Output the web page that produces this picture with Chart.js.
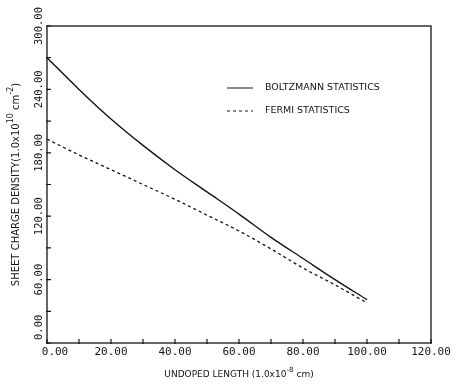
<!DOCTYPE html>
<html>
<head>
<meta charset="utf-8">
<script src="https://cdn.jsdelivr.net/npm/chart.js@4/dist/chart.umd.min.js"></script>
<style>
  body { margin: 0; background: #fff; }
  #chart { display: block; }
</style>
</head>
<body>
<canvas id="chart" width="456" height="384"></canvas>
<script>
// Undoped length (1.0x10^-8 cm)
const lengths = [0, 10, 20, 30, 40, 50, 60, 70, 80, 90, 100];
// Sheet charge density (1.0x10^10 cm^-2)
const boltzmann = [270, 240, 212, 187, 164, 143, 122, 100, 80, 60, 41];
const fermi = [193, 178, 164, 150, 136, 121, 106, 89, 71, 55, 38];

const xLabelValues = [0, 20, 40, 60, 80, 100, 120];
const yLabelValues = [0, 60, 120, 180, 240, 300];
const xMinorStep = 10;
const yMinorStep = 30;

const INK = '#141414';
const monoFont = '"DejaVu Sans Mono", monospace';
const textFont = '"DejaVu Sans", sans-serif';

function toPoints(xs, ys) {
    return xs.map((x, i) => ({ x: x, y: ys[i] }));
}

// draws text pieces in a row, some of them raised as superscripts
function drawPieces(ctx, pieces, x, y, size) {
    let total = 0;
    pieces.forEach(p => {
        ctx.font = (p.sup ? size * 0.8 : size) + 'px ' + textFont;
        p.w = ctx.measureText(p.text).width;
        total += p.w;
    });
    let cx = x - total / 2;
    pieces.forEach(p => {
        ctx.font = (p.sup ? size * 0.8 : size) + 'px ' + textFont;
        ctx.fillText(p.text, cx, p.sup ? y - size * 0.55 : y);
        cx += p.w;
    });
}

// frame, inward ticks, tick labels, axis titles and legend
const framePlugin = {
    id: 'frame',
    afterDraw(chart) {
        const ctx = chart.ctx;
        const area = chart.chartArea;
        const xs = chart.scales.x;
        const ys = chart.scales.y;
        ctx.save();
        ctx.strokeStyle = INK;
        ctx.fillStyle = INK;
        ctx.lineWidth = 1.3;
        ctx.strokeRect(area.left, area.top, area.right - area.left, area.bottom - area.top);

        ctx.lineWidth = 1.2;
        ctx.beginPath();
        for (let v = xs.min; v <= xs.max; v += xMinorStep) {
            const px = xs.getPixelForValue(v);
            ctx.moveTo(px, area.bottom + 1);
            ctx.lineTo(px, area.bottom - 4);
        }
        for (let v = ys.min; v <= ys.max; v += yMinorStep) {
            const py = ys.getPixelForValue(v);
            ctx.moveTo(area.left - 1, py);
            ctx.lineTo(area.left + 4, py);
        }
        ctx.stroke();

        // x tick labels
        ctx.font = '11px ' + monoFont;
        ctx.textBaseline = 'middle';
        xLabelValues.forEach((v, i) => {
            const px = xs.getPixelForValue(v);
            ctx.textAlign = 'center';
            ctx.fillText(v.toFixed(2), i === 0 ? px + 8 : px, area.bottom + 9);
        });

        // y tick labels, rotated
        ctx.font = '10.5px ' + monoFont;
        yLabelValues.forEach((v, i) => {
            const py = ys.getPixelForValue(v);
            ctx.save();
            ctx.translate(area.left - 8, i === 0 ? py - 3 : py);
            ctx.rotate(-Math.PI / 2);
            ctx.textAlign = i === 0 ? 'left' : 'center';
            ctx.fillText(v.toFixed(2), 0, 0);
            ctx.restore();
        });

        // axis titles
        ctx.textAlign = 'left';
        ctx.textBaseline = 'middle';
        drawPieces(ctx, [
            { text: 'UNDOPED LENGTH (1.0x10' },
            { text: '-8', sup: true },
            { text: ' cm)' }
        ], (area.left + area.right) / 2, 375, 9);

        ctx.save();
        ctx.translate(16, (area.top + area.bottom) / 2);
        ctx.rotate(-Math.PI / 2);
        drawPieces(ctx, [
            { text: 'SHEET CHARGE DENSITY(1.0x10' },
            { text: '10', sup: true },
            { text: ' cm' },
            { text: '-2', sup: true },
            { text: ')' }
        ], 0, 0, 10);
        ctx.restore();

        // legend
        chart.data.datasets.forEach((ds, i) => {
            const ly = 88 + i * 23;
            ctx.lineWidth = 1;
            ctx.setLineDash(ds.borderDash || []);
            ctx.beginPath();
            ctx.moveTo(227, ly);
            ctx.lineTo(253, ly);
            ctx.stroke();
            ctx.setLineDash([]);
            ctx.font = '9.5px ' + textFont;
            ctx.textAlign = 'left';
            ctx.fillText(ds.label, 265, ly);
        });
        ctx.restore();
    }
};

new Chart(document.getElementById('chart'), {
    type: 'line',
    data: {
        datasets: [
            {
                label: 'BOLTZMANN STATISTICS',
                data: toPoints(lengths, boltzmann),
                borderColor: INK,
                borderWidth: 1.4,
                pointRadius: 0,
                cubicInterpolationMode: 'monotone',
                fill: false
            },
            {
                label: 'FERMI STATISTICS',
                data: toPoints(lengths, fermi),
                borderColor: INK,
                borderWidth: 1.3,
                borderDash: [3, 3],
                pointRadius: 0,
                cubicInterpolationMode: 'monotone',
                fill: false
            }
        ]
    },
    options: {
        responsive: false,
        animation: false,
        layout: { padding: { left: 47, right: 25, top: 26, bottom: 41 } },
        plugins: {
            legend: { display: false },
            tooltip: { enabled: false }
        },
        scales: {
            x: {
                type: 'linear',
                min: 0,
                max: 120,
                grid: { display: false, drawTicks: false },
                border: { display: false },
                ticks: { display: false }
            },
            y: {
                type: 'linear',
                min: 0,
                max: 300,
                grid: { display: false, drawTicks: false },
                border: { display: false },
                ticks: { display: false }
            }
        }
    },
    plugins: [framePlugin]
});
</script>
</body>
</html>
